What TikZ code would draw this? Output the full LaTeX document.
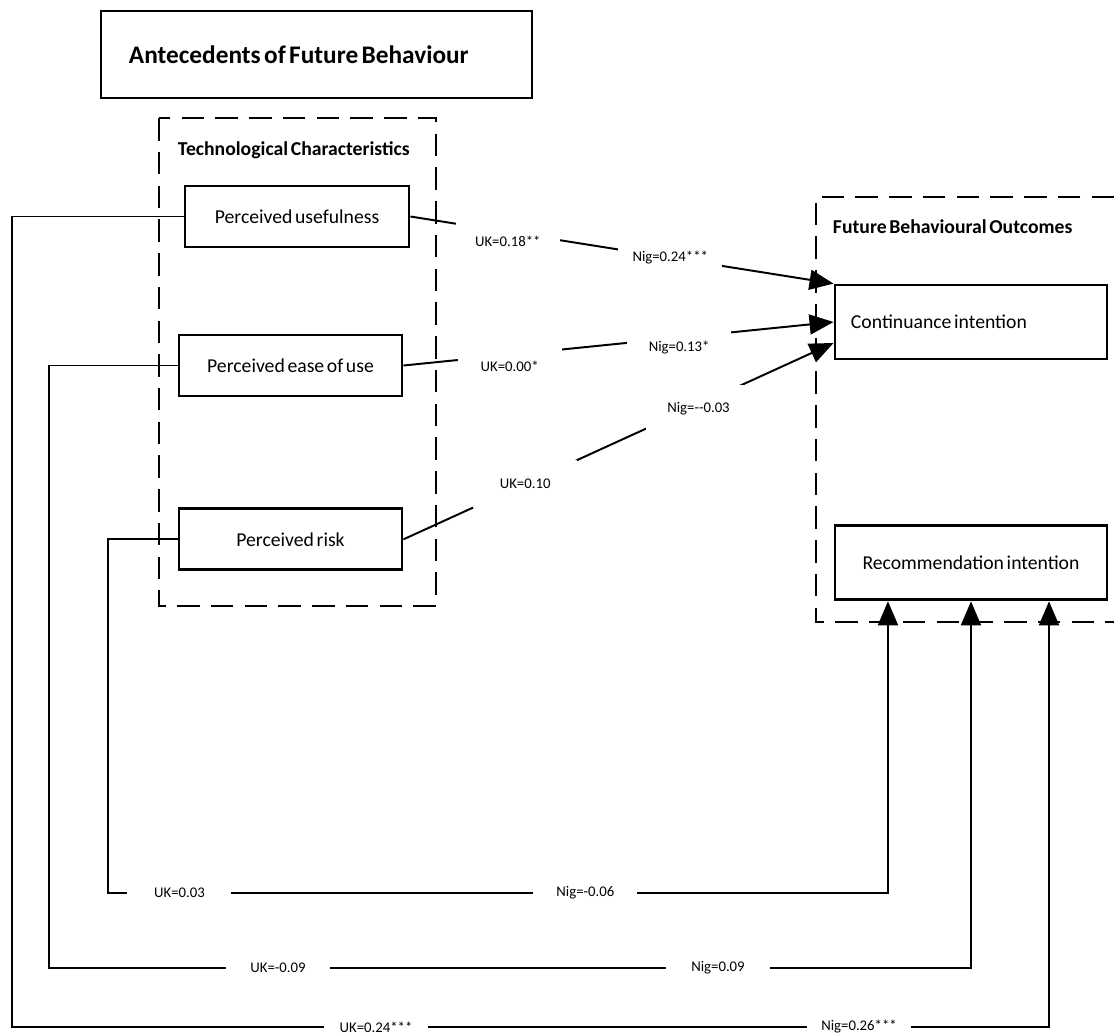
\documentclass[tikz,border=0pt]{standalone}
\usepackage{fontspec}
\setmainfont{Carlito}[WordSpace=0.6]
\usetikzlibrary{arrows.meta,positioning}

\begin{document}
\begin{tikzpicture}[x=0.025cm,y=-0.025cm,line width=1.4pt,>={Triangle[length=0.6cm,width=0.5cm]},
  main node/.style={rectangle,draw,line width=2pt,minimum width=5.575cm,minimum height=1.525cm,font=\fontsize{14}{16}\selectfont},
  out node/.style={main node,minimum width=6.8cm,minimum height=1.85cm},
  head node/.style={inner sep=0pt,anchor=west,font=\fontsize{14}{16}\selectfont\bfseries},
  group/.style={dash pattern=on 16pt off 8pt,line width=2pt},
  coef node/.style={fill=white,inner sep=0pt,minimum width=2.6cm,minimum height=1.2cm,font=\fontsize{10.5}{12}\selectfont}]
  \useasboundingbox (0,0) rectangle (1114,1035);

  \node[draw,line width=2pt,minimum height=2.175cm,text width=9.375cm,inner xsep=0.7cm,align=flush left,font=\fontsize{18}{20}\selectfont\bfseries] (title) at (316.5,54.5) {Antecedents of Future Behaviour};

  % technological characteristics
  \draw[group] (159,118) rectangle (436,606);
  \node[head node] (tc) at (177,150) {Technological Characteristics};
  \node[main node,minimum width=5.6cm] (pu) at (297,216.5) {Perceived usefulness};
  \node[main node] (peou) at (290.5,365.5) {Perceived ease of use};
  \node[main node] (pr) [below=2.75cm of peou] {Perceived risk};

  % future behavioural outcomes
  \draw[group] (1114,197) -| (816,622) -- (1114,622);
  \node[head node] (fbo) at (832,227) {Future Behavioural Outcomes};
  \node[out node,text width=6cm,inner xsep=0.4cm,align=flush left] (ci) at (971,322) {Continuance intention};
  \node[out node] (ri) [below=4.1cm of ci] {Recommendation intention};

  \path[->]
  (pu.east) edge node[coef node,pos=.23,yshift=-0.225cm] {UK=0.18**} node[coef node,pos=.614] {Nig=0.24***} (ci.north west)
  (peou.east) edge node[coef node,pos=.247,yshift=-0.3cm] {UK=0.00*} node[coef node,pos=.641,yshift=-0.25cm] {Nig=0.13*} (ci.west)
  (pr.east) edge node[coef node,pos=.283] {UK=0.10} node[coef node,pos=.686,yshift=-0.1cm] {Nig=-{}-0.03} ([yshift=-0.525cm]ci.west);

  \draw[->] (pu.west) -| (12,1027) -| node[coef node,pos=.1755] {UK=0.24***} node[coef node,pos=.4084] {Nig=0.26***} ([xshift=1.95cm]ri.south);
  \draw[->] (peou.west) -| (49,968) -| node[coef node,pos=.1242] {UK=-0.09} node[coef node,pos=.3628] {Nig=0.09} (ri.south);
  \draw[->] (pr.west) -| (108,893) -| node[coef node,pos=.0458] {UK=0.03} node[coef node,pos=.306] {Nig=-0.06} ([xshift=-2.075cm]ri.south);
\end{tikzpicture}
\end{document}
